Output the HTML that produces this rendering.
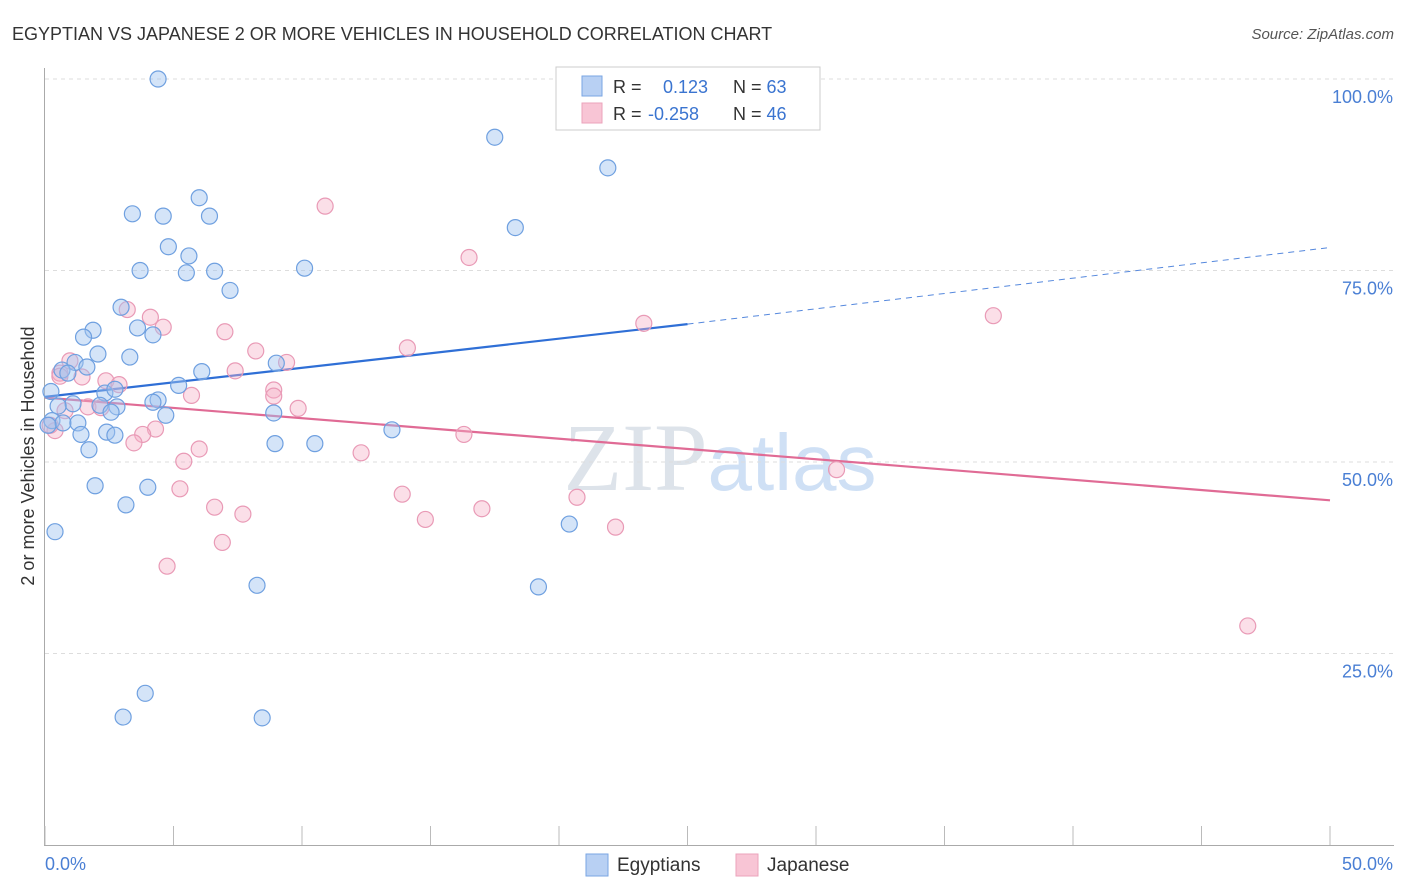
<!DOCTYPE html>
<html><head><meta charset="utf-8"><style>
body{margin:0;background:#fff;font-family:"Liberation Sans",sans-serif;}
svg{display:block}
</style></head><body>
<svg id="chart" width="1406" height="892">
<text x="12" y="40" font-size="18" fill="#333">EGYPTIAN VS JAPANESE 2 OR MORE VEHICLES IN HOUSEHOLD CORRELATION CHART</text>
<text x="1394" y="39" font-size="15" fill="#555" font-style="italic" text-anchor="end">Source: ZipAtlas.com</text>
<text x="720" y="490" font-size="96" fill="#dde3ea" text-anchor="middle" font-family="Liberation Serif,serif">ZIP<tspan fill="#cfe0f5" font-family="Liberation Sans,sans-serif" font-size="80">atlas</tspan></text>
<g id="grid"></g>
<line x1="44.5" y1="68" x2="44.5" y2="845" stroke="#aaa"/>
<line x1="44" y1="845.5" x2="1394" y2="845.5" stroke="#aaa"/>
<g id="xticks"></g>
<text x="45" y="870" font-size="18" fill="#4a7fd4">0.0%</text>
<text x="1393" y="870" font-size="18" fill="#4a7fd4" text-anchor="end">50.0%</text>
<text transform="translate(34,456) rotate(-90)" font-size="18" fill="#333" text-anchor="middle">2 or more Vehicles in Household</text>
<g id="lines"></g>
<g id="points"></g>
<g>
<rect x="556" y="67" width="264" height="63" fill="#fff" stroke="#ccc"/>
<rect x="582" y="76" width="20" height="20" fill="#b8d0f3" stroke="#7aa6e3"/>
<rect x="582" y="103" width="20" height="20" fill="#f8c5d5" stroke="#eba3bb"/>
<text x="613" y="93" font-size="18" fill="#333">R =  <tspan x="663" fill="#3a74d0">0.123</tspan><tspan x="733" fill="#333">N = </tspan><tspan fill="#3a74d0">63</tspan></text>
<text x="613" y="120" font-size="18" fill="#333">R = <tspan x="648" fill="#3a74d0">-0.258</tspan><tspan x="733" fill="#333">N = </tspan><tspan fill="#3a74d0">46</tspan></text>
</g>
<g>
<rect x="586" y="854" width="22" height="22" fill="#b8d0f3" stroke="#7aa6e3"/>
<text x="617" y="871" font-size="19" fill="#333">Egyptians</text>
<rect x="736" y="854" width="22" height="22" fill="#f8c5d5" stroke="#eba3bb"/>
<text x="767" y="871" font-size="19" fill="#333">Japanese</text>
</g>
</svg>
<script>
const yTicks=[25,50,75,100];
const xTickVals=[0,5,10,15,20,25,30,35,40,45,50];
const blueX=[4.4,17.5,21.9,3.4,4.6,6.4,6.0,18.3,4.8,5.6,3.7,5.5,6.6,10.1,7.2,2.96,1.87,1.5,3.6,4.2,2.06,3.3,1.17,0.66,0.89,1.63,6.1,9.0,5.2,0.23,2.33,2.72,4.4,4.2,1.09,0.51,2.8,2.14,2.57,4.7,8.9,0.27,0.7,1.28,0.12,1.4,2.4,2.72,13.5,8.95,10.5,1.71,1.95,4.0,3.15,20.4,0.39,8.25,19.2,3.9,3.04,8.45];
const blueY=[100,92.4,88.4,82.4,82.1,82.1,84.5,80.6,78.1,76.9,75,74.7,74.9,75.3,72.4,70.2,67.2,66.3,67.5,66.6,64.1,63.7,63,62,61.6,62.4,61.8,62.9,60,59.2,59,59.5,58.1,57.8,57.6,57.3,57.2,57.4,56.5,56.1,56.4,55.4,55.1,55.1,54.8,53.6,53.9,53.5,54.2,52.4,52.4,51.6,46.9,46.7,44.4,41.9,40.9,33.9,33.7,19.8,16.7,16.6];
const pinkX=[10.9,16.5,36.9,23.3,3.2,4.1,4.6,7.0,8.2,14.1,9.4,7.4,0.97,1.44,0.58,2.37,2.88,8.9,8.9,5.7,9.85,1.67,2.18,0.78,0.39,12.3,16.3,4.3,3.8,3.46,6.0,5.4,30.8,5.25,13.9,20.7,17.0,6.6,7.7,14.8,22.2,6.9,4.75,46.8,0.58,0.2];
const pinkY=[83.4,76.7,69.1,68.1,69.9,68.9,67.6,67.0,64.5,64.9,63,61.9,63.2,61.1,61.6,60.6,60.1,59.4,58.6,58.7,57,57.2,57.1,56.7,54.1,51.2,53.6,54.3,53.6,52.5,51.7,50.1,49,46.5,45.8,45.4,43.9,44.1,43.2,42.5,41.5,39.5,36.4,28.6,61.2,54.8];
const blueLine=[[0,58.5],[25,68]], blueDash=[[25,68],[50,78]];
const pinkLine=[[0,58.4],[50,45]];
const X=v=>45+v*25.7, Y=v=>845-v*7.66;
const NS='http://www.w3.org/2000/svg';
function mk(tag,attrs,parent){const e=document.createElementNS(NS,tag);for(const k in attrs)e.setAttribute(k,attrs[k]);document.getElementById(parent).appendChild(e);return e;}
yTicks.forEach(t=>{
 const l=mk('line',{x1:45,x2:1394,y1:Y(t),y2:Y(t),stroke:'#ddd','stroke-dasharray':'4,4'},'grid');
 
 
 const tx=mk('text',{x:1393,y:Y(t)+24,'font-size':18,fill:'#4a7fd4','text-anchor':'end'},'grid');
 tx.textContent=t.toFixed(1)+'%';
 
 
});
xTickVals.forEach(t=>{
 const l=mk('line',{x1:X(t),x2:X(t),y1:826,y2:845,stroke:'#bbb'},'xticks');
 
 
});
function seg(p,color,dash,name){
 const l=mk('line',{x1:X(p[0][0]),y1:Y(p[0][1]),x2:X(p[1][0]),y2:Y(p[1][1]),stroke:color,'stroke-width':dash?1:2.2},'lines');
 if(dash)l.setAttribute('stroke-dasharray','6,5');
 
 
}
function pts(xs,ys,fill,stroke,name){
 xs.forEach((x,i)=>{
  const c=mk('circle',{cx:X(x),cy:Y(ys[i]),r:8,fill:fill,stroke:stroke,'stroke-width':1.2},'points');
  
  
 });
}
pts(pinkX,pinkY,'rgba(245,175,198,0.4)','#e99ab6','japanese-point');
pts(blueX,blueY,'rgba(160,195,240,0.45)','#6fa0e0','egyptian-point');
seg(pinkLine,'#e06b95',false,'japanese-trend-line');
seg(blueLine,'#2f6fd6',false,'egyptian-trend-line');
seg(blueDash,'#5588dd',true,'egyptian-trend-extension');
</script>
</body></html>
